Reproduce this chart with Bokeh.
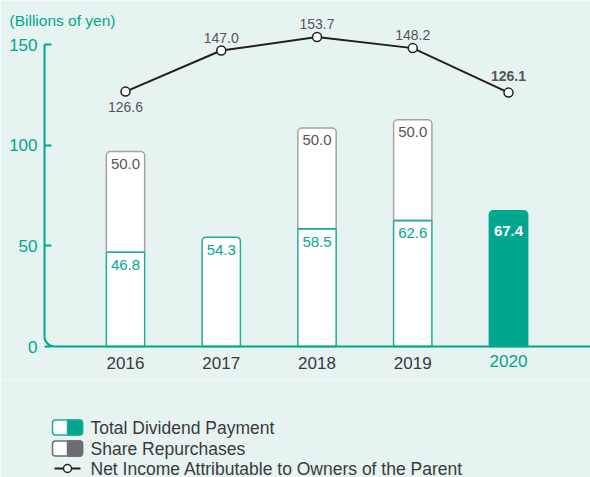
import math
from bokeh.plotting import figure
from bokeh.models import Range1d, FixedTicker, LinearAxis, ColumnDataSource
from bokeh.layouts import column
from bokeh.embed import file_html
from bokeh.resources import INLINE
from bokeh.core.properties import value

# ---- data ----
years = ["2016", "2017", "2018", "2019", "2020"]
dividends = [46.8, 54.3, 58.5, 62.6, 67.4]
repurchases = [50.0, 0.0, 50.0, 50.0, 0.0]
net_income = [126.6, 147.0, 153.7, 148.2, 126.1]
y_ticks = [0, 50, 100, 150]
legend_labels = ["Total Dividend Payment", "Share Repurchases",
                 "Net Income Attributable to Owners of the Parent"]
unit_label = "(Billions of yen)"

# ---- styles ----
BG = "#e6f3f1"
GREEN = "#00a78e"
GREEN_LINE = "#1eae95"
GRAY_LINE = "#a3a3a3"
GRAY_FILL = "#6d6e71"
DARK = "#3a3a3a"
LABEL = "#555555"
LINE = "#231f20"
FONT = "Liberation Sans"

# ---- layout (pixels) ----
W_PX, H_MAIN, H_LEG = 590, 380, 97
X0_PX, DX_PX = 125.0, 95.75          # centre of first category, spacing
AXIS_X_PX, AXIS_Y_PX = 44.0, 346.0   # y axis / x axis line positions
PX_PER_UNIT = (346.0 - 44.0) / 150.0
CORNER = 10.0

def xd(px):
    return (px - X0_PX) / DX_PX

def yd(py):
    return (AXIS_Y_PX - py) / PX_PER_UNIT

xs = list(range(len(years)))
last = len(years) - 1

p = figure(width=W_PX, height=H_MAIN, x_range=Range1d(xd(0), xd(W_PX)),
           y_range=Range1d(yd(H_MAIN), yd(0)), toolbar_location=None,
           output_backend="svg", min_border=0,
           x_axis_location=None, y_axis_location=None)
p.background_fill_color = BG
p.border_fill_color = BG
p.outline_line_color = None
p.grid.visible = False

# y axis
ya = LinearAxis(fixed_location=xd(AXIS_X_PX), ticker=FixedTicker(ticks=y_ticks),
                bounds=(CORNER / PX_PER_UNIT, y_ticks[-1]))
ya.axis_line_color = GREEN
ya.axis_line_width = 2
ya.major_tick_line_color = GREEN
ya.major_tick_line_width = 2
ya.major_tick_in = 7
ya.major_tick_out = 0
ya.minor_tick_line_color = None
ya.major_label_standoff = 7
ya.major_label_text_color = GREEN
ya.major_label_text_font = FONT
ya.major_label_text_font_size = "17px"
p.add_layout(ya, "left")

# x axis
xa = LinearAxis(fixed_location=0, ticker=FixedTicker(ticks=xs),
                bounds=(xd(AXIS_X_PX + CORNER), xd(W_PX)))
xa.major_label_overrides = {i: (years[i] if i != last else "") for i in xs}
xa.axis_line_color = GREEN
xa.axis_line_width = 2
xa.major_tick_line_color = None
xa.major_tick_in = 0
xa.major_tick_out = 0
xa.minor_tick_line_color = None
xa.major_label_standoff = 10
xa.major_label_text_color = DARK
xa.major_label_text_font = FONT
xa.major_label_text_font_size = "17px"
p.add_layout(xa, "below")

# rounded corner joining the axes
p.arc(x=[xd(AXIS_X_PX + CORNER)], y=[yd(AXIS_Y_PX - CORNER)], radius=CORNER,
      radius_units="screen", start_angle=math.pi, end_angle=1.5 * math.pi,
      line_color=GREEN, line_width=2)

# bars
stack_idx = [i for i in xs if repurchases[i] > 0]
top_idx = [i for i in xs if repurchases[i] <= 0]
W = 0.4

src_div_sq = ColumnDataSource(dict(x=[xs[i] for i in stack_idx],
                                   top=[dividends[i] for i in stack_idx]))
p.vbar(x="x", top="top", bottom=0, width=W, source=src_div_sq,
       fill_color="white", line_color=GREEN_LINE, line_width=1.5)

src_rep = ColumnDataSource(dict(x=[xs[i] for i in stack_idx],
                                bottom=[dividends[i] for i in stack_idx],
                                top=[dividends[i] + repurchases[i] for i in stack_idx]))
p.vbar(x="x", top="top", bottom="bottom", width=W, source=src_rep,
       fill_color="white", line_color=GRAY_LINE, line_width=1.5,
       border_radius=(4, 4, 0, 0))
p.segment(x0=[xs[i] - W / 2 for i in stack_idx], x1=[xs[i] + W / 2 for i in stack_idx],
          y0=[dividends[i] for i in stack_idx], y1=[dividends[i] for i in stack_idx],
          line_color=GREEN_LINE, line_width=1.5)

src_div_rd = ColumnDataSource(dict(
    x=[xs[i] for i in top_idx], top=[dividends[i] for i in top_idx],
    fill=[GREEN if i == last else "white" for i in top_idx],
    line=[GREEN if i == last else GREEN_LINE for i in top_idx]))
p.vbar(x="x", top="top", bottom=0, width=W, source=src_div_rd,
       fill_color="fill", line_color="line", line_width=1.5,
       border_radius=(4, 4, 0, 0))

# bar labels
p.text(x=[xs[i] for i in stack_idx],
       y=[dividends[i] + repurchases[i] for i in stack_idx],
       text=["%.1f" % repurchases[i] for i in stack_idx],
       text_align="center", text_baseline="top", y_offset=7,
       text_color=LABEL, text_font=value(FONT), text_font_size="15px")
p.text(x=[xs[i] for i in xs if i != last],
       y=[dividends[i] for i in xs if i != last],
       text=["%.1f" % dividends[i] for i in xs if i != last],
       text_align="center", text_baseline="top", y_offset=8,
       text_color=GREEN, text_font=value(FONT), text_font_size="15px")
p.text(x=[xs[last]], y=[dividends[last]], text=["%.1f" % dividends[last]],
       text_align="center", text_baseline="top", y_offset=15,
       text_color="white", text_font=value(FONT), text_font_size="15px",
       text_font_style="bold")

# net income line
p.line(xs, net_income, line_color=LINE, line_width=2)
p.scatter(xs, net_income, size=9, fill_color="white", line_color=LINE,
          line_width=1.5)
p.text(x=[xs[0]], y=[net_income[0]], text=["%.1f" % net_income[0]],
       text_align="center", text_baseline="top", y_offset=10,
       text_color=LABEL, text_font=value(FONT), text_font_size="14px")
p.text(x=xs[1:last], y=net_income[1:last],
       text=["%.1f" % v for v in net_income[1:last]],
       text_align="center", text_baseline="bottom", y_offset=-8,
       text_color=LABEL, text_font=value(FONT), text_font_size="14px")
p.text(x=[xs[last]], y=[net_income[last]], text=["%.1f" % net_income[last]],
       text_align="center", text_baseline="bottom", y_offset=-12,
       text_color=LABEL, text_font=value(FONT), text_font_size="14px",
       text_font_style="bold")

# highlighted year label and unit label
p.text(x=[xs[last]], y=[0], text=[years[last]], text_align="center",
       text_baseline="top", y_offset=8, text_color=GREEN,
       text_font=value(FONT), text_font_size="17px")
p.text(x=[xd(9)], y=[yd(20)], text=[unit_label], text_align="left",
       text_baseline="middle", text_color=GREEN, text_font=value(FONT),
       text_font_size="15.5px")

# ---- legend figure ----
leg = figure(width=W_PX, height=H_LEG, x_range=Range1d(0, W_PX),
             y_range=Range1d(H_LEG, 0), toolbar_location=None,
             output_backend="svg", min_border=0,
             x_axis_location=None, y_axis_location=None)
leg.background_fill_color = BG
leg.border_fill_color = BG
leg.outline_line_color = None
leg.grid.visible = False

rows = [47, 68, 88]
ix0, ix1, tx = 52, 82, 90
ixm = (ix0 + ix1) / 2
h = 7.5
for r, lc, fc in [(rows[0], GREEN_LINE, GREEN), (rows[1], GRAY_FILL, GRAY_FILL)]:
    leg.quad(left=[ix0], right=[ix1], top=[r - h], bottom=[r + h],
             fill_color="white", line_color=lc, line_width=1.5, border_radius=3)
    leg.quad(left=[ixm], right=[ix1], top=[r - h], bottom=[r + h],
             fill_color=fc, line_color=lc, line_width=1.5,
             border_radius=(0, 3, 3, 0))
leg.line([ix0 + 2, ix1 - 2], [rows[2], rows[2]], line_color=LINE, line_width=2)
leg.scatter([ixm], [rows[2]], size=8, fill_color="white", line_color=LINE,
            line_width=1.5)
leg.text(x=[tx] * 3, y=rows, text=legend_labels, text_align="left",
         text_baseline="middle", text_color=DARK, text_font=value(FONT),
         text_font_size="17.5px")

layout = column(p, leg, spacing=0)
open("out.html", "w").write(file_html(layout, INLINE))
